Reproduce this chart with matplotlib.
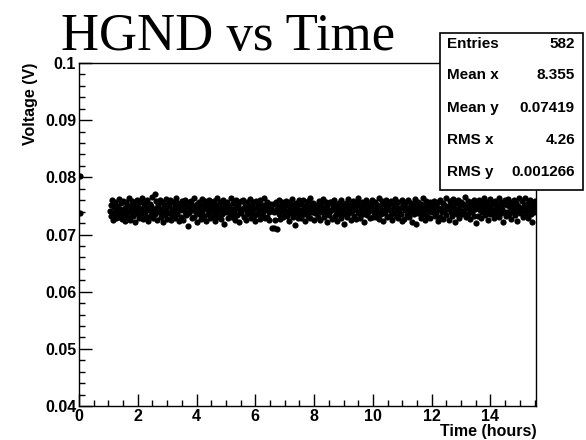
import numpy as np
import matplotlib
matplotlib.use("Agg")
import matplotlib.pyplot as plt
from matplotlib.patches import Rectangle

plt.rcParams["font.family"] = "Liberation Sans"

# time of each reading, in 1/100 hour
x_raw = [
    3, 3,
    105, 108, 110, 113, 115, 118, 120, 122, 125, 127, 130, 133, 135, 137, 140, 143, 145, 147, 150, 152,
    155, 157, 160, 163, 165, 167, 170, 173, 175, 177, 180, 182, 185, 188, 190, 192, 195, 198, 200, 202,
    205, 208, 210, 212, 215, 218, 220, 223, 225, 227, 230, 232, 235, 238, 240, 242, 245, 247, 250, 253,
    255, 258, 260, 262, 265, 267, 270, 273, 275, 278, 280, 282, 285, 287, 290, 293, 295, 297, 300, 302,
    305, 307, 310, 313, 315, 318, 320, 322, 325, 327, 330, 333, 335, 337, 340, 343, 345, 348, 350, 352,
    355, 358, 360, 362, 365, 367, 370, 373, 375, 377, 380, 383, 385, 387, 390, 392, 395, 398, 400, 402,
    405, 407, 410, 412, 415, 418, 420, 423, 425, 427, 430, 432, 435, 438, 440, 442, 445, 448, 450, 452,
    455, 458, 460, 463, 465, 467, 470, 472, 475, 478, 480, 482, 485, 487, 490, 493, 495, 497, 500, 503,
    505, 507, 510, 512, 515, 518, 520, 522, 525, 528, 530, 533, 535, 537, 540, 542, 545, 548, 550, 552,
    555, 558, 560, 562, 565, 568, 570, 572, 575, 577, 580, 583, 585, 587, 590, 593, 595, 597, 600, 602,
    605, 607, 610, 613, 615, 617, 620, 623, 625, 627, 630, 632, 635, 638, 640, 642, 645, 648, 650, 652,
    655, 658, 660, 662, 665, 667, 670, 673, 675, 678, 680, 682, 685, 687, 690, 692, 695, 698, 700, 702,
    705, 707, 710, 713, 715, 718, 720, 722, 725, 727, 730, 733, 735, 737, 740, 743, 745, 747, 750, 753,
    755, 757, 760, 763, 765, 767, 770, 772, 775, 778, 780, 783, 785, 787, 790, 792, 795, 798, 800, 802,
    805, 808, 810, 812, 815, 817, 820, 823, 825, 828, 830, 832, 835, 837, 840, 843, 845, 847, 850, 853,
    855, 857, 860, 863, 865, 868, 870, 872, 875, 877, 880, 883, 885, 888, 890, 892, 895, 897, 900, 902,
    905, 908, 910, 912, 915, 917, 920, 923, 925, 927, 930, 932, 935, 938, 940, 942, 945, 948, 950, 952,
    955, 957, 960, 963, 965, 967, 970, 973, 975, 978, 980, 982, 985, 987, 990, 993, 995, 997, 1000, 1003,
    1005, 1007, 1010, 1012, 1015, 1018, 1020, 1022, 1025, 1028, 1030, 1032, 1035, 1037, 1040, 1043, 1045, 1047, 1050, 1052,
    1055, 1058, 1060, 1062, 1065, 1068, 1070, 1072, 1075, 1077, 1080, 1083, 1085, 1087, 1090, 1092, 1095, 1098, 1100, 1102,
    1105, 1107, 1110, 1113, 1115, 1117, 1120, 1123, 1125, 1127, 1130, 1133, 1135, 1137, 1140, 1142, 1145, 1148, 1150, 1152,
    1155, 1158, 1160, 1162, 1165, 1167, 1170, 1173, 1175, 1178, 1180, 1182, 1185, 1187, 1190, 1193, 1195, 1197, 1200, 1202,
    1205, 1207, 1210, 1213, 1215, 1218, 1220, 1222, 1225, 1227, 1230, 1233, 1235, 1237, 1240, 1242, 1245, 1248, 1250, 1253,
    1255, 1258, 1260, 1262, 1265, 1267, 1270, 1273, 1275, 1277, 1280, 1283, 1285, 1287, 1290, 1292, 1295, 1298, 1300, 1302,
    1305, 1307, 1310, 1312, 1315, 1318, 1320, 1323, 1325, 1328, 1330, 1332, 1335, 1337, 1340, 1343, 1345, 1347, 1350, 1352,
    1355, 1358, 1360, 1363, 1365, 1367, 1370, 1372, 1375, 1378, 1380, 1382, 1385, 1388, 1390, 1392, 1395, 1397, 1400, 1403,
    1405, 1407, 1410, 1412, 1415, 1418, 1420, 1422, 1425, 1428, 1430, 1432, 1435, 1437, 1440, 1443, 1445, 1447, 1450, 1452,
    1455, 1458, 1460, 1462, 1465, 1468, 1470, 1473, 1475, 1477, 1480, 1482, 1485, 1488, 1490, 1492, 1495, 1498, 1500, 1502,
    1505, 1507, 1510, 1513, 1515, 1517, 1520, 1523, 1525, 1527, 1530, 1533, 1535, 1537, 1540, 1543, 1545, 1547, 1550, 1552,
]

# HGND voltage, in 1/10 mV
y_raw = [
    803, 738,
    741, 752, 733, 760, 726, 748, 738, 757, 744, 729, 750, 736, 762, 731, 745, 755, 727, 740, 758, 734,
    747, 723, 756, 739, 751, 730, 764, 743, 725, 749, 737, 759, 732, 746, 754, 722, 741, 761, 735, 748,
    729, 757, 744, 736, 763, 727, 750, 739, 755, 731, 746, 760, 724, 742, 753, 733, 749, 738, 765, 728,
    745, 770, 735, 758, 726, 747, 752, 740, 761, 730, 744, 756, 721, 739, 751, 734, 762, 743, 727, 754,
    738, 749, 760, 725, 745, 733, 757, 741, 752, 729, 763, 736, 747, 755, 723, 742, 750, 731, 758, 744,
    726, 753, 740, 761, 734, 748, 715, 756, 737, 745, 759, 728, 751, 742, 764, 730, 747, 739, 754, 722,
    749, 735, 757, 743, 727, 762, 740, 751, 733, 746, 758, 724, 744, 753, 736, 760, 729, 748, 741, 755,
    732, 759, 745, 724, 752, 738, 763, 730, 747, 741, 756, 727, 750, 735, 761, 743, 718, 754, 739, 748,
    757, 728, 742, 750, 736, 764, 744, 731, 755, 739, 725, 748, 760, 734, 746, 752, 722, 741, 758, 737,
    744, 761, 730, 747, 753, 726, 740, 757, 735, 749, 743, 762, 729, 751, 738, 756, 733, 745, 723, 759,
    736, 748, 755, 742, 727, 760, 746, 734, 752, 740, 764, 728, 744, 757, 731, 750, 739, 725, 753, 747,
    746, 711, 753, 739, 712, 725, 757, 744, 710, 750, 735, 761, 727, 748, 741, 756, 731, 745, 752, 738,
    758, 733, 741, 749, 724, 756, 738, 745, 762, 730, 751, 743, 716, 755, 737, 748, 729, 760, 742, 734,
    729, 754, 742, 760, 736, 747, 723, 751, 739, 758, 733, 745, 763, 728, 749, 740, 755, 726, 744, 737,
    752, 738, 746, 731, 759, 743, 725, 754, 740, 748, 762, 730, 745, 736, 757, 721, 750, 742, 734, 756,
    741, 757, 727, 749, 744, 761, 733, 751, 739, 724, 747, 755, 736, 743, 760, 729, 752, 738, 746, 719,
    735, 748, 755, 730, 743, 762, 738, 746, 726, 753, 741, 758, 732, 749, 744, 727, 756, 740, 763, 737,
    750, 729, 744, 757, 736, 748, 721, 754, 742, 760, 734, 747, 739, 755, 728, 751, 743, 761, 731, 745,
    738, 756, 731, 747, 752, 740, 764, 727, 749, 735, 758, 743, 723, 753, 737, 746, 760, 730, 744, 751,
    745, 733, 759, 741, 726, 754, 738, 748, 762, 732, 750, 743, 729, 756, 740, 747, 735, 761, 724, 752,
    727, 751, 743, 757, 734, 746, 760, 730, 748, 739, 755, 722, 744, 753, 736, 762, 741, 718, 749, 737,
    756, 738, 747, 729, 753, 742, 764, 735, 750, 726, 745, 758, 733, 749, 741, 757, 728, 746, 754, 740,
    743, 759, 732, 751, 737, 748, 724, 756, 744, 761, 731, 747, 739, 755, 727, 752, 742, 763, 734, 746,
    750, 726, 745, 758, 740, 753, 733, 762, 738, 747, 721, 755, 744, 736, 760, 729, 751, 742, 757, 735,
    741, 754, 737, 749, 765, 730, 746, 758, 735, 752, 743, 727, 756, 739, 748, 761, 732, 745, 753, 720,
    747, 733, 760, 742, 751, 728, 756, 739, 745, 763, 734, 750, 741, 757, 725, 748, 744, 762, 736, 752,
    738, 755, 743, 729, 759, 746, 735, 753, 741, 764, 731, 749, 757, 737, 745, 722, 754, 740, 761, 733,
    752, 740, 762, 735, 748, 757, 727, 745, 751, 739, 760, 734, 747, 755, 742, 724, 750, 763, 738, 746,
    744, 758, 731, 750, 741, 764, 737, 753, 746, 729, 756, 743, 761, 735, 748, 721, 754, 740, 759, 747,
]

stat_names = ["Entries", "Mean x", "Mean y", "RMS x", "RMS y"]
stat_values = ["582", "8.355", "0.07419", "4.26", "0.001266"]

x = np.array(x_raw) / 100.0
y = np.array(y_raw) / 10000.0

W, H = 586, 440
fig = plt.figure(figsize=(W / 100, H / 100), dpi=100)
ax = fig.add_axes([79 / W, 1 - 406 / H, (536 - 79) / W, (406 - 63) / H])

ax.scatter(x, y, s=20, c="black", marker="o", linewidths=0)

ax.set_xlim(0, 15.55)
ax.set_ylim(0.04, 0.1)
ax.set_xticks(np.arange(0, 15, 2))
ax.set_xticks(np.arange(0, 15.6, 0.5), minor=True)
ax.set_yticks([0.04, 0.05, 0.06, 0.07, 0.08, 0.09, 0.1])
ax.set_yticklabels(["0.04", "0.05", "0.06", "0.07", "0.08", "0.09", "0.1"])
ax.set_yticks(np.arange(0.04, 0.1001, 0.002), minor=True)
ax.tick_params(which="both", direction="in", top=False, right=False,
               width=1, labelsize=11.5, pad=2)
ax.tick_params(which="major", length=9)
ax.tick_params(which="minor", length=4.5)
for lab in ax.get_xticklabels() + ax.get_yticklabels():
    lab.set_fontweight("bold")
for sp in ax.spines.values():
    sp.set_linewidth(1)

fig.text(61 / W, 1 - 50 / H, "HGND vs Time", family="Liberation Serif",
         fontsize=38, ha="left", va="baseline")
fig.text(537 / W, 1 - 431 / H, "Time (hours)", fontsize=11.5, fontweight="bold",
         ha="right", va="center")
fig.text(30 / W, 1 - 63 / H, "Voltage (V)", fontsize=11.5, fontweight="bold",
         rotation=90, ha="center", va="top")

# stats box
fig.patches.append(Rectangle((440 / W, 1 - 190 / H), (583 - 440) / W, (190 - 33) / H,
                             transform=fig.transFigure, facecolor="white",
                             edgecolor="black", linewidth=1.2, zorder=5))
row_y = [44, 75, 108, 140, 172]
for name, val, ry in zip(stat_names, stat_values, row_y):
    fig.text(447 / W, 1 - ry / H, name, fontsize=11, fontweight="bold",
             ha="left", va="center", zorder=6)
    fig.text(575 / W, 1 - ry / H, val, fontsize=11, fontweight="bold",
             ha="right", va="center", zorder=6)

fig.savefig("out.png", dpi=100)
